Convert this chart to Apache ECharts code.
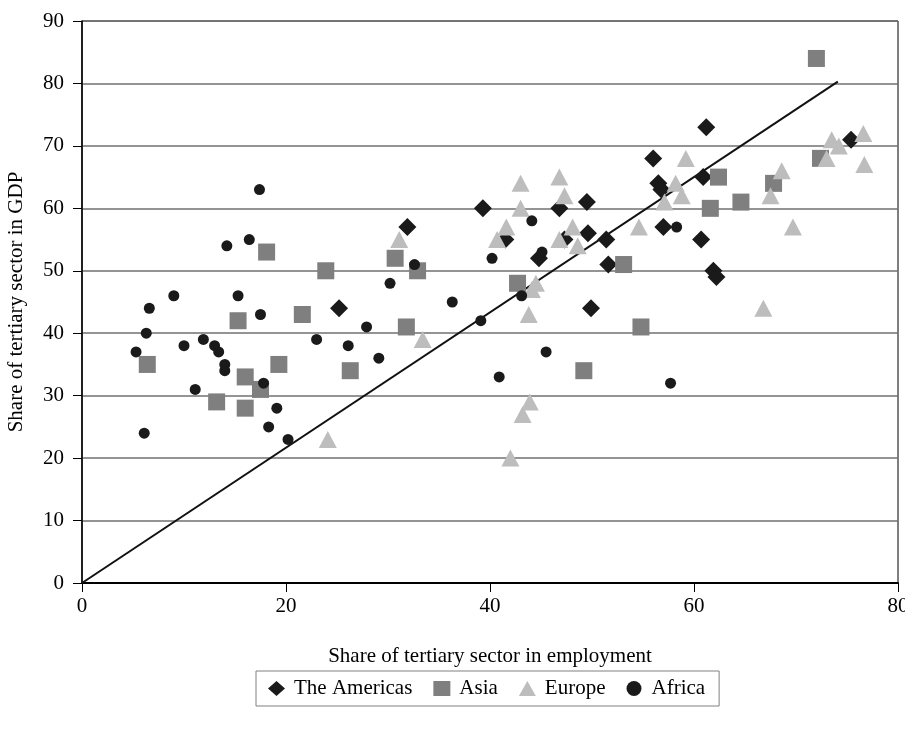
<!DOCTYPE html>
<html>
<head>
<meta charset="utf-8">
<script src="https://cdn.jsdelivr.net/npm/echarts@6/dist/echarts.min.js"></script>
<style>
  html, body { margin: 0; padding: 0; background: #fff; }
  #chart { width: 905px; height: 730px; }
</style>
</head>
<body>
<div id="chart"></div>
<script>
// share of tertiary sector: [employment, GDP]
const americas = [
  [25.2, 44], [31.9, 57], [39.3, 60], [41.5, 55], [44.8, 52], [46.8, 60],
  [47.3, 55], [49.5, 61], [49.6, 56], [49.9, 44], [51.4, 55], [51.6, 51],
  [56.0, 68], [56.5, 64], [56.8, 63], [57.0, 57], [60.7, 55], [60.9, 65],
  [61.2, 73], [61.9, 50], [62.2, 49], [75.4, 71]
];
const asia = [
  [6.4, 35], [13.2, 29], [15.3, 42], [16.0, 33], [16.0, 28], [17.5, 31],
  [18.1, 53], [19.3, 35], [21.6, 43], [23.9, 50], [26.3, 34], [30.7, 52],
  [31.8, 41], [32.9, 50], [42.7, 48], [49.2, 34], [53.1, 51], [54.8, 41],
  [61.6, 60], [62.4, 65], [64.6, 61], [67.8, 64], [72.0, 84], [72.4, 68]
];
const europe = [
  [24.1, 23], [31.1, 55], [33.4, 39], [40.7, 55], [41.6, 57], [42.0, 20],
  [43.0, 64], [43.0, 60], [43.2, 27], [43.9, 29], [43.8, 43], [44.1, 47],
  [44.5, 48], [46.8, 65], [47.3, 62], [46.8, 55], [48.1, 57], [48.6, 54],
  [54.6, 57], [57.1, 61], [58.2, 64], [58.8, 62], [59.2, 68], [66.8, 44],
  [67.5, 62], [68.6, 66], [69.7, 57], [73.0, 68], [73.5, 71], [74.2, 70],
  [76.6, 72], [76.7, 67]
];
const africa = [
  [5.3, 37], [6.1, 24], [6.3, 40], [6.6, 44], [9.0, 46], [10.0, 38],
  [11.1, 31], [11.9, 39], [13.0, 38], [13.4, 37], [14.0, 35], [14.0, 34],
  [14.2, 54], [15.3, 46], [16.4, 55], [17.4, 63], [17.5, 43], [17.8, 32],
  [18.3, 25], [19.1, 28], [20.2, 23], [23.0, 39], [26.1, 38], [27.9, 41],
  [29.1, 36], [30.2, 48], [32.6, 51], [36.3, 45], [39.1, 42], [40.2, 52],
  [40.9, 33], [43.1, 46], [44.1, 58], [45.1, 53], [45.5, 37], [57.7, 32],
  [58.3, 57]
];
const trendLine = [[0, 0], [74.1, 80.3]];

const serif = 'Liberation Serif';
const fs = 21;
let myChart = echarts.init(document.getElementById('chart'));

myChart.setOption({
  animation: false,
  textStyle: { fontFamily: serif, color: '#000' },
  grid: {
    left: 82, right: 7, top: 21, bottom: 147,
    outerBoundsMode: 'none',
    show: true, borderColor: '#000', borderWidth: 1
  },
  legend: {
    data: [
      { name: 'The Americas', icon: 'diamond' },
      { name: 'Asia', icon: 'rect' },
      { name: 'Europe', icon: 'triangle' },
      { name: 'Africa', icon: 'circle' }
    ],
    left: 256, top: 671,
    padding: [7, 14, 7, 12],
    borderColor: '#808080', borderWidth: 1,
    itemWidth: 17, itemHeight: 15, itemGap: 21,
    textStyle: { fontFamily: serif, fontSize: fs, color: '#000', padding: [0, 0, 0, 4] }
  },
  xAxis: {
    type: 'value', min: 0, max: 80, interval: 20,
    name: 'Share of tertiary sector in employment',
    nameLocation: 'middle', nameGap: 63,
    nameTextStyle: { fontFamily: serif, fontSize: fs, color: '#000' },
    axisLine: { lineStyle: { color: '#000', width: 2 } },
    axisTick: { show: true, length: 9, lineStyle: { color: '#000' } },
    axisLabel: { fontFamily: serif, fontSize: fs, color: '#000', margin: 13 },
    splitLine: { show: false }
  },
  yAxis: {
    type: 'value', min: 0, max: 90, interval: 10,
    name: 'Share of tertiary sector in GDP',
    nameLocation: 'middle', nameGap: 55,
    nameTextStyle: { fontFamily: serif, fontSize: fs, color: '#000' },
    axisLine: { show: true, lineStyle: { color: '#000', width: 1.5 } },
    axisTick: { show: true, length: 9, lineStyle: { color: '#000' } },
    axisLabel: { fontFamily: serif, fontSize: fs, color: '#000', margin: 18 },
    splitLine: { show: true, lineStyle: { color: '#707070', width: 1.5 } }
  },
  series: [
    {
      name: 'trend', type: 'line', data: trendLine,
      symbol: 'none', silent: true, z: 1,
      lineStyle: { color: '#111', width: 2 }
    },
    {
      name: 'The Americas', type: 'scatter', data: americas,
      symbol: 'diamond', symbolSize: 18,
      itemStyle: { color: '#1a1a1a', opacity: 1 }
    },
    {
      name: 'Asia', type: 'scatter', data: asia,
      symbol: 'rect', symbolSize: 17,
      itemStyle: { color: '#7f7f7f', opacity: 1 }
    },
    {
      name: 'Europe', type: 'scatter', data: europe,
      symbol: 'triangle', symbolSize: [18, 17],
      itemStyle: { color: '#bdbdbd', opacity: 1 }
    },
    {
      name: 'Africa', type: 'scatter', data: africa,
      symbol: 'circle', symbolSize: 11,
      itemStyle: { color: '#1a1a1a', opacity: 1 }
    }
  ]
});
</script>
</body>
</html>
